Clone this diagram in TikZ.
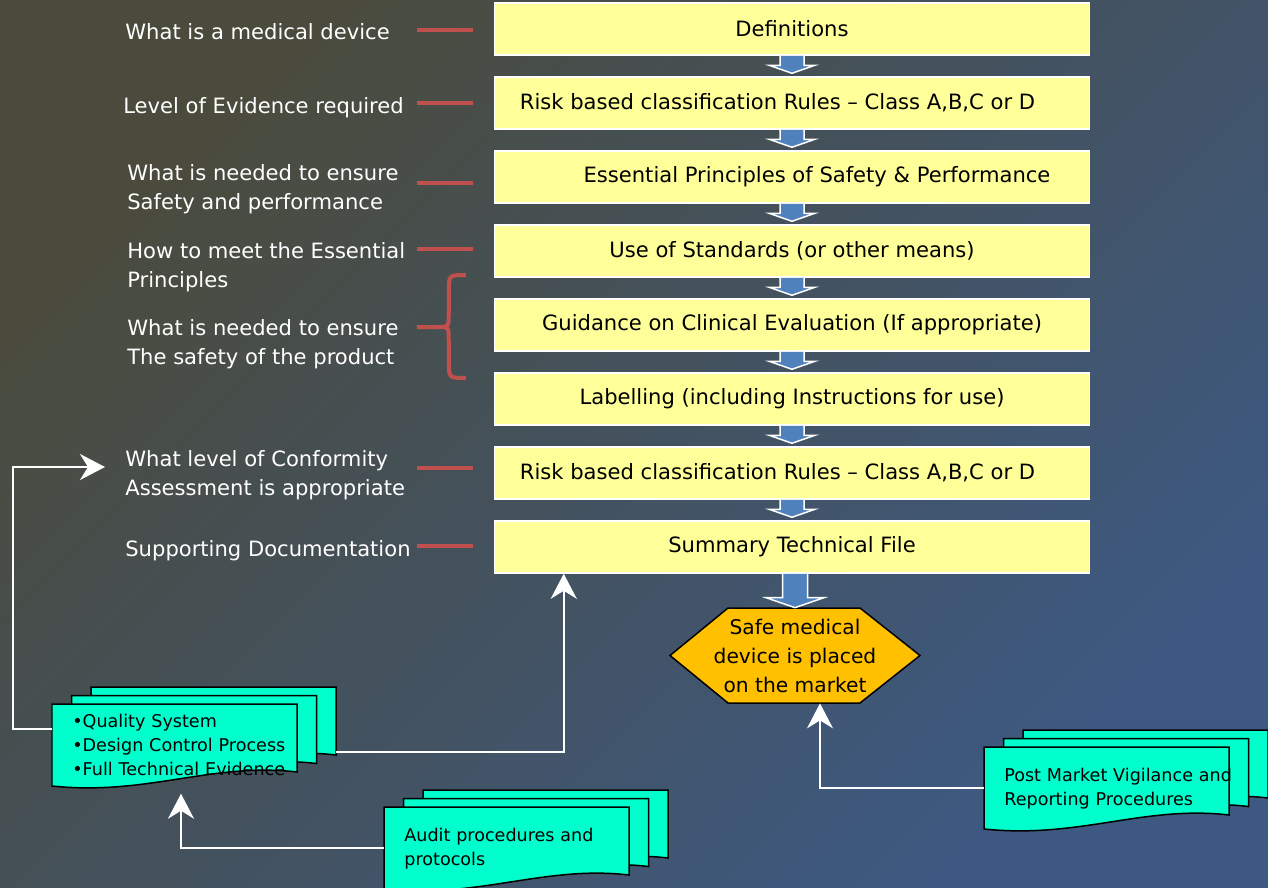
\documentclass[tikz,border=0pt]{standalone}
\usepackage{fontspec}
\setmainfont{DejaVu Sans}
\usetikzlibrary{arrows.meta,positioning,calc}
\definecolor{bgtop}{HTML}{4A4B3C}
\definecolor{bgbottom}{HTML}{3D5982}
\definecolor{softyellow}{HTML}{FFFF99}
\definecolor{flowblue}{HTML}{4F81BD}
\definecolor{markred}{HTML}{C0504D}
\definecolor{pageaqua}{HTML}{00FFCC}
\definecolor{hexgold}{HTML}{FFC000}

\tikzset{
  sheet/.pic={\filldraw[fill=pageaqua,draw=black,line width=0.03cm]
    (0,0) -- (4.9,0) -- (4.9,-1.36) .. controls (3.2,-1.16) and (1.9,-1.84) .. (0,-1.64) -- cycle;}
}

% three stacked pages, #1 = top left corner of the front page
\newcommand{\pagestack}[1]{%
  \pic at ($#1+(0.78,0.34)$) {sheet};
  \pic at ($#1+(0.39,0.17)$) {sheet};
  \pic at #1 {sheet};}

% fat blue arrow between two boxes
\newcommand{\blockarrow}[2]{%
  \filldraw[fill=flowblue,draw=white,line width=0.03cm]
    ($(#1.south)+(-0.24,0)$) -- ($(#2.north)+(-0.24,0.22)$) -- ($(#2.north)+(-0.46,0.22)$)
    -- ($(#2.north)+(0,0.06)$) -- ($(#2.north)+(0.46,0.22)$) -- ($(#2.north)+(0.24,0.22)$)
    -- ($(#1.south)+(0.24,0)$);}

\begin{document}
\begin{tikzpicture}[
    stage/.style={draw=white,line width=0.03cm,fill=softyellow,minimum width=11.9cm,minimum height=1.04cm,inner sep=0,font=\fontsize{12}{16.5}\selectfont},
    note/.style={text=white,align=left,anchor=west,inner sep=0,font=\fontsize{12}{16.5}\selectfont},
    redbar/.style={draw=markred,line width=0.08cm},
    doctext/.style={anchor=north west,align=left,text width=4.7cm,inner xsep=0.4cm,inner ysep=0,minimum height=1.64cm,font=\fontsize{10}{13.7}\selectfont},
    link/.style={draw=white,line width=0.04cm,-{Stealth[length=0.5cm,width=0.52cm,inset=0.16cm]}},
    node distance=0.41cm
  ]
  % background
  \shade[top color=bgtop,bottom color=bgbottom,shading angle=45] (0,0) rectangle (25.36,-17.74);
  \useasboundingbox (0,0) rectangle (25.36,-17.74);

  % main flow
  \node[stage] (def) at (15.84,-0.58) {Definitions};
  \node[stage,below=of def] (risk) {Risk based classification Rules – Class A,B,C or D\hspace*{0.58cm}};
  \node[stage,below=of risk] (ess) {\hspace*{1cm}Essential Principles of Safety \& Performance};
  \node[stage,below=of ess] (std) {Use of Standards (or other means)};
  \node[stage,below=of std] (guide) {Guidance on Clinical Evaluation (If appropriate)};
  \node[stage,below=of guide] (label) {Labelling (including Instructions for use)};
  \node[stage,below=of label] (conform) {Risk based classification Rules – Class A,B,C or D\hspace*{0.58cm}};
  \node[stage,below=of conform] (summ) {Summary Technical File};

  \foreach \a/\b in {def/risk,risk/ess,ess/std,std/guide,guide/label,label/conform,conform/summ}
    \blockarrow{\a}{\b};

  % end of the flow
  \coordinate (hexc) at (15.9,-13.11);
  \filldraw[fill=hexgold,draw=black,line width=0.03cm] ($(hexc)+(-2.5,0)$) -- ++(1.16,0.95) -- ++(2.64,0)
    -- ++(1.2,-0.95) -- ++(-1.2,-0.95) -- ++(-2.64,0) -- cycle;
  \node[minimum width=5cm,minimum height=1.9cm,align=center,inner sep=0,font=\fontsize{11.5}{16.5}\selectfont] (safe) at (hexc)
    {Safe medical\\device is placed\\on the market};
  \filldraw[fill=flowblue,draw=white,line width=0.03cm]
    ($(summ.south -| safe.north)+(-0.25,0)$) -- ($(safe.north)+(-0.25,0.2)$) -- ($(safe.north)+(-0.58,0.2)$)
    -- (safe.north) -- ($(safe.north)+(0.58,0.2)$) -- ($(safe.north)+(0.25,0.2)$)
    -- ($(summ.south -| safe.north)+(0.25,0)$);

  % questions on the left
  \node[note] (what) at (2.5,-0.64) {What is a medical device};
  \node[note] (level) at (2.46,-2.16) {Level of Evidence required};
  \node[note] (needed) at (2.54,-3.79) {What is needed to ensure\\Safety and performance};
  \node[note] (howto) at (2.54,-5.35) {How to meet the Essential\\Principles};
  \node[note] (safety) at (2.54,-6.89) {What is needed to ensure\\The safety of the product};
  \node[note] (conf) at (2.5,-9.51) {What level of Conformity\\Assessment is appropriate};
  \node[note] (support) at (2.5,-11.02) {Supporting Documentation};

  \foreach \b/\dy in {def/-0.02,risk/0,ess/-0.12,std/0.04,conform/0.1,summ/0.02}
    \draw[redbar] ($(\b.west)+(-0.42,\dy)$) -- ++(-1.12,0);
  \begin{scope}[shift={(guide.west)}]
    \draw[redbar] (-0.56,1.0) .. controls (-0.9,1.0) .. (-0.9,0.66) -- (-0.9,0.24)
      .. controls (-0.9,-0.04) .. (-1.1,-0.04) -- (-1.54,-0.04);
    \draw[redbar] (-1.1,-0.04) .. controls (-0.9,-0.04) .. (-0.9,-0.32) -- (-0.9,-0.72)
      .. controls (-0.9,-1.06) .. (-0.56,-1.06);
  \end{scope}

  % documents
  \pagestack{(1.04,-14.08)}
  \pagestack{(7.68,-16.14)}
  \pagestack{(19.68,-14.94)}
  \node[doctext] (qual) at (1.04,-14.08) {•Quality System\\•Design Control Process\\•Full Technical Evidence};
  \node[doctext] (audit) at (7.68,-16.14) {Audit procedures and\\protocols};
  \node[doctext] (post) at (19.68,-14.94) {Post Market Vigilance and\\Reporting Procedures};

  \draw[link] ($(qual.west)+(0,0.32)$) -- ++(-0.78,0) |- ($(conf.west)+(-0.4,0.17)$);
  \draw[link] ($(qual.west)+(5.68,-0.14)$) -| ($(summ.south west)+(1.4,0)$);
  \draw[link] (audit.west) -| ($(qual.south west)+(2.58,-0.14)$);
  \draw[link] (post.west) -| ($(safe.south)+(0.5,0)$);
\end{tikzpicture}
\end{document}
